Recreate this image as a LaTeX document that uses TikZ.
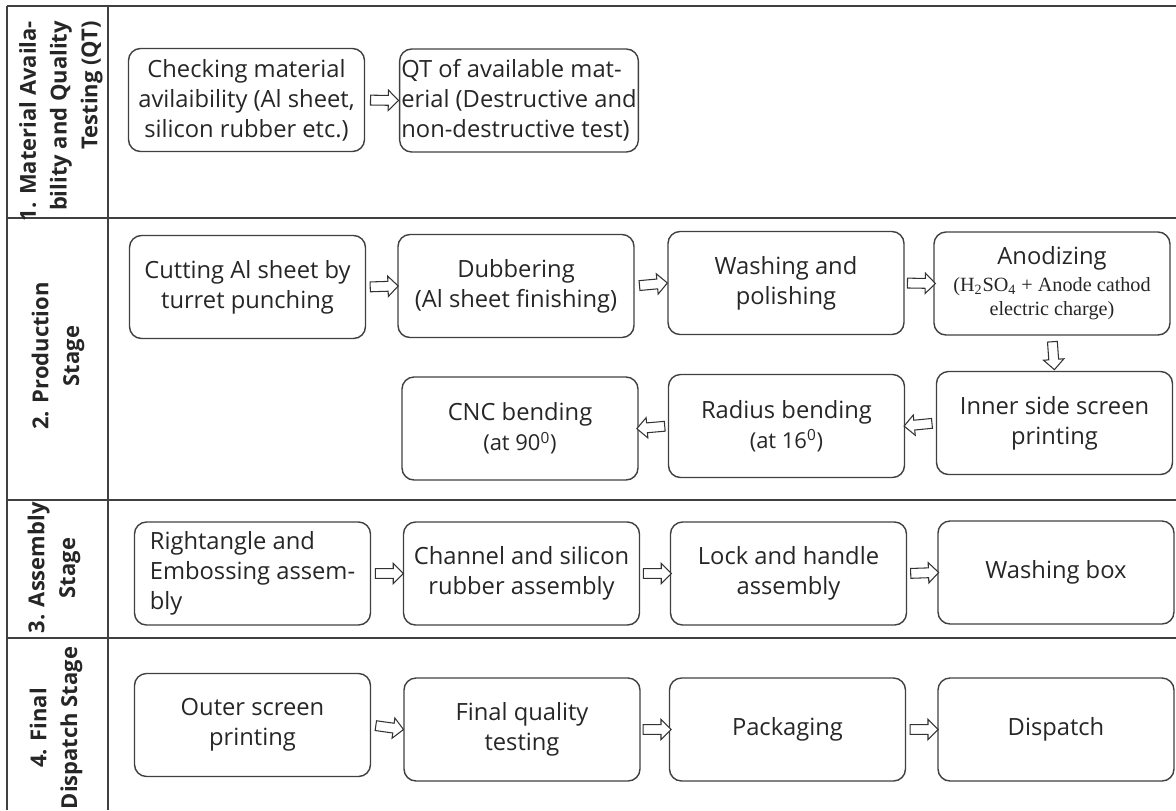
\documentclass[tikz,border=0pt]{standalone}
\usepackage{fontspec}
\setmainfont{Open Sans}
\newfontfamily\chemfont{Liberation Serif}
\usetikzlibrary{shapes.arrows}

\begin{document}
\begin{tikzpicture}[scale=0.2,
  stepbox/.style={draw=black!75, line width=0.8pt, rounded corners=2.4mm, minimum width=4.72cm, minimum height=2.06cm, align=center, inner sep=1pt, font=\fontsize{13.5}{17}\selectfont},
  stagelabel/.style={rotate=90, align=center, font=\bfseries\fontsize{12.5}{17.5}\selectfont},
  hollow/.style={single arrow, draw=black!80, line width=0.6pt, fill=white, minimum height=0.56cm, single arrow head extend=3pt, inner sep=2.5pt, sloped, allow upside down}]
\tikzstyle{every node}+=[text=black!85]
\useasboundingbox (0,0) rectangle (117.6,-81);
\draw [black!75, line width=0.8pt] (0.7,-0.6) -- (117.6,-0.6);
\draw [black!75, line width=0.8pt] (0.7,-21.8) -- (117.6,-21.8);
\draw [black!75, line width=0.8pt] (0.7,-50.0) -- (117.6,-50.0);
\draw [black!75, line width=0.8pt] (0.7,-63.8) -- (117.6,-63.8);
\draw [black!75, line width=0.8pt] (0.7,-0.6) -- (0.7,-81);
\draw [black!75, line width=0.8pt] (10.8,-0.6) -- (10.8,-81);
\node [stagelabel, align=right, anchor=east] (s1) at (6.1,-1.5) {1. Material Availa-\\bility and Quality\\Testing (QT)};
\node [stagelabel] (s2) at (5.8,-35.6) {2. Production\\Stage};
\node [stagelabel] (s3) at (5.4,-56.8) {3. Assembly\\Stage};
\node [stagelabel] (s4) at (5.6,-72.8) {4. Final\\Dispatch Stage};
\node [stepbox] (check) at (24.65,-10.0) {Checking material\\avilaibility (Al sheet,\\silicon rubber etc.)};
\node [stepbox, align=left] (qt) at (51.9,-10.05) {QT of available mat-\\erial (Destructive and\\non-destructive test)};
\node [stepbox] (cut) at (24.75,-28.7) {Cutting Al sheet by\\turret punching};
\node [stepbox] (dub) at (51.6,-28.6) {Dubbering\\(Al sheet finishing)};
\node [stepbox] (wash) at (78.6,-28.3) {Washing and\\polishing};
\node [stepbox] (anod) at (105.2,-28.35) {Anodizing\\[-2pt]{\chemfont\fontsize{11.5}{13}\selectfont (H\textsubscript{2}SO\textsubscript{4} + Anode cathod}\\[-3pt]{\chemfont\fontsize{11.5}{13}\selectfont electric charge)}};
\node [stepbox] (inner) at (105.45,-42.3) {Inner side screen\\printing};
\node [stepbox] (radius) at (78.65,-42.6) {Radius bending\\{\fontsize{12.5}{15}\selectfont (at 16\textsuperscript{0})}};
\node [stepbox] (cnc) at (52.0,-42.85) {CNC bending\\{\fontsize{12.5}{15}\selectfont (at 90\textsuperscript{0})}};
\node [stepbox, align=left] (right) at (25.25,-57.35) {Rightangle and\\Embossing assem-\\bly};
\node [stepbox] (chan) at (52.15,-57.35) {Channel and silicon\\rubber assembly};
\node [stepbox] (lock) at (78.85,-57.35) {Lock and handle\\assembly};
\node [stepbox] (wbox) at (105.6,-57.25) {Washing box};
\node [stepbox] (outer) at (25.25,-72.5) {Outer screen\\printing};
\node [stepbox] (final) at (52.2,-72.95) {Final quality\\testing};
\node [stepbox] (pack) at (78.75,-72.95) {Packaging};
\node [stepbox] (disp) at (105.6,-72.95) {Dispatch};
\path (check.east) -- node [hollow] {} (qt.west);
\path (cut.east) -- node [hollow] {} (dub.west);
\path (dub.east) -- node [hollow] {} (wash.west);
\path (wash.east) -- node [hollow] {} (anod.west);
\path (anod.south) -- node [hollow] {} (inner.north);
\path (inner.west) -- node [hollow] {} (radius.east);
\path (radius.west) -- node [hollow] {} (cnc.east);
\path (right.east) -- node [hollow] {} (chan.west);
\path (chan.east) -- node [hollow] {} (lock.west);
\path (lock.east) -- node [hollow] {} (wbox.west);
\path (outer.east) -- node [hollow] {} (final.west);
\path (final.east) -- node [hollow] {} (pack.west);
\path (pack.east) -- node [hollow] {} (disp.west);
\end{tikzpicture}
\end{document}
